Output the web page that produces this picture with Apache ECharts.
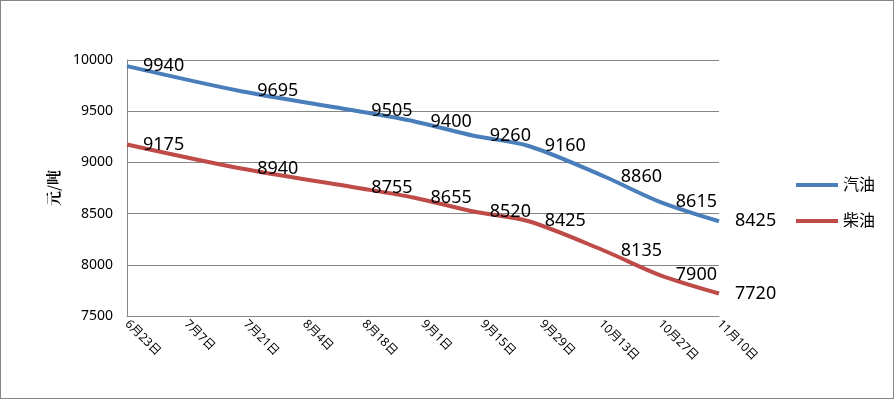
<!DOCTYPE html>
<html>
<head>
<meta charset="utf-8">
<script src="https://cdn.jsdelivr.net/npm/echarts@6/dist/echarts.min.js"></script>
<style>
  html, body { margin: 0; padding: 0; background: #fff; }
  #main { width: 894px; height: 399px; box-sizing: border-box; border: 1px solid #868686; }
</style>
</head>
<body>
<div id="main"></div>
<script>
// 刻度标签（每14天一个）
var dateLabels = ['6月23日', '7月7日', '7月21日', '8月4日', '8月18日', '9月1日', '9月15日', '9月29日', '10月13日', '10月27日', '11月10日'];
// 调价日（距6月23日的天数）
var priceDays = [0, 27, 54, 68, 82, 95, 113, 126, 140];
var gasoline = [9940, 9695, 9505, 9400, 9260, 9160, 8860, 8615, 8425];
var diesel = [9175, 8940, 8755, 8655, 8520, 8425, 8135, 7900, 7720];

function pairs(days, vals) {
    var out = [];
    for (var i = 0; i < days.length; i++) {
        out.push([days[i], vals[i]]);
    }
    return out;
}

var chart = echarts.init(document.getElementById('main'));
var font = '"Noto Sans", "Noto Sans CJK SC", sans-serif';

var labelStyle = {
    show: true,
    position: 'right',
    distance: 16,
    color: '#000',
    fontSize: 18,
    fontFamily: font
};

chart.setOption({
    animation: false,
    grid: { left: 126, top: 59, right: 174, bottom: 82 },
    legend: {
        orient: 'vertical',
        left: 790,
        top: 171,
        icon: 'rect',
        itemWidth: 42,
        itemHeight: 4,
        itemGap: 20,
        textStyle: { fontSize: 16, color: '#000', fontFamily: font },
        data: ['汽油', '柴油']
    },
    xAxis: {
        type: 'value',
        min: 0,
        max: 140,
        interval: 14,
        axisLine: { show: true, lineStyle: { color: '#868686' } },
        axisTick: { show: false },
        splitLine: { show: false },
        axisLabel: {
            rotate: -45,
            margin: 6,
            fontSize: 12,
            color: '#000',
            fontFamily: font,
            formatter: function (v) { return dateLabels[Math.round(v / 14)]; }
        }
    },
    yAxis: {
        type: 'value',
        min: 7500,
        max: 10000,
        interval: 500,
        name: '元/吨',
        nameLocation: 'middle',
        nameGap: 66,
        nameRotate: 90,
        nameTextStyle: { fontSize: 15, fontWeight: 'bold', color: '#000', fontFamily: '"Noto Serif CJK SC", "Noto Sans CJK SC", serif' },
        axisLine: { show: true, lineStyle: { color: '#868686' } },
        axisTick: { show: false },
        splitLine: { lineStyle: { color: '#868686', width: 1 } },
        axisLabel: {
            fontSize: 14,
            color: '#000',
            margin: 14,
            fontFamily: font,
            formatter: function (v) { return String(v); }
        }
    },
    series: [
        {
            name: '汽油',
            type: 'line',
            data: pairs(priceDays, gasoline),
            smooth: 0.3,
            symbol: 'circle',
            symbolSize: 0,
            showSymbol: true,
            color: '#4A7EBB',
            lineStyle: { width: 4, color: '#4A7EBB' },
            label: labelStyle
        },
        {
            name: '柴油',
            type: 'line',
            data: pairs(priceDays, diesel),
            smooth: 0.3,
            symbol: 'circle',
            symbolSize: 0,
            showSymbol: true,
            color: '#BE4B48',
            lineStyle: { width: 4, color: '#BE4B48' },
            label: labelStyle
        }
    ]
});
</script>
</body>
</html>
